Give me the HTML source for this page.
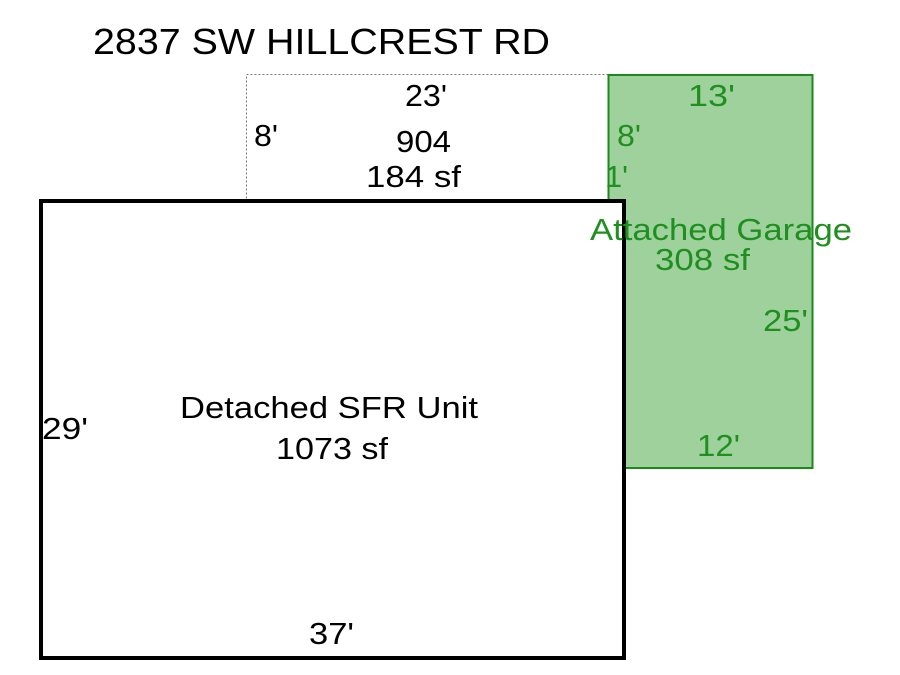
<!DOCTYPE html>
<html><head><meta charset="utf-8"><style>
html,body{margin:0;padding:0;background:#fff;}
svg{display:block;}
text{font-family:"Liberation Sans",Arial,sans-serif;}
</style></head><body>
<svg width="900" height="675" viewBox="0 0 900 675" xmlns="http://www.w3.org/2000/svg">
<rect x="0" y="0" width="900" height="675" fill="#fff"/>
<text x="93" y="54" font-size="36" fill="#000" textLength="457" lengthAdjust="spacingAndGlyphs">2837 SW HILLCREST RD</text>
<rect x="246.5" y="74.5" width="362" height="126" fill="none" stroke="#777" stroke-width="1" stroke-dasharray="2,2"/>
<rect x="608.5" y="75" width="204" height="393" fill="#9fd19d" stroke="#1a8a1a" stroke-width="2"/>
<rect x="41" y="201" width="583" height="457" fill="#fff" stroke="#000" stroke-width="4"/>
<g fill="#000" font-size="31">
<text x="405" y="106" textLength="42" lengthAdjust="spacingAndGlyphs">23'</text>
<text x="254" y="146" textLength="24" lengthAdjust="spacingAndGlyphs">8'</text>
<text x="396" y="152" textLength="55" lengthAdjust="spacingAndGlyphs">904</text>
<text x="366" y="187" textLength="95" lengthAdjust="spacingAndGlyphs">184 sf</text>
<text x="180" y="418" textLength="298" lengthAdjust="spacingAndGlyphs">Detached SFR Unit</text>
<text x="276" y="459" textLength="112" lengthAdjust="spacingAndGlyphs">1073 sf</text>
<text x="42" y="439" textLength="46" lengthAdjust="spacingAndGlyphs">29'</text>
<text x="309" y="644" textLength="45" lengthAdjust="spacingAndGlyphs">37'</text>
</g>
<g fill="#1f8f1f" font-size="31">
<text x="688" y="106" textLength="47" lengthAdjust="spacingAndGlyphs">13'</text>
<text x="617" y="146" textLength="24" lengthAdjust="spacingAndGlyphs">8'</text>
<text x="605" y="187" textLength="23" lengthAdjust="spacingAndGlyphs">1'</text>
<text x="590" y="240" textLength="262" lengthAdjust="spacingAndGlyphs">Attached Garage</text>
<text x="655" y="270" textLength="95" lengthAdjust="spacingAndGlyphs">308 sf</text>
<text x="763" y="331" textLength="45" lengthAdjust="spacingAndGlyphs">25'</text>
<text x="697" y="456" textLength="43" lengthAdjust="spacingAndGlyphs">12'</text>
</g>
</svg>
</body></html>
